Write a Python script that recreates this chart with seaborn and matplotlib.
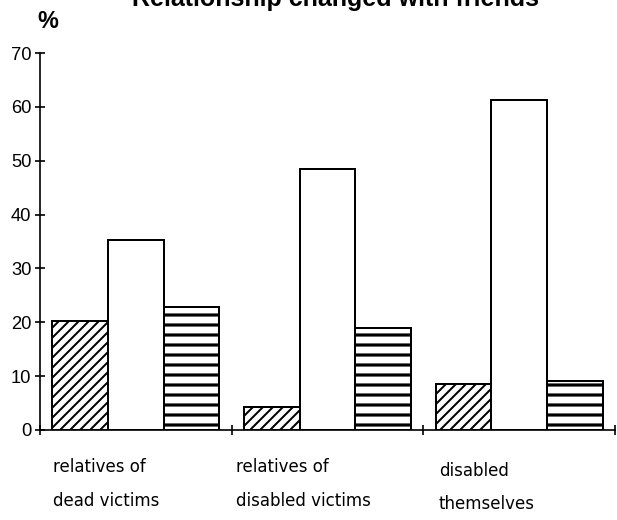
import matplotlib
matplotlib.use("Agg")
import matplotlib.pyplot as plt
import seaborn as sns
import pandas as pd

groups = ["relatives of\ndead victims", "relatives of\ndisabled victims", "disabled\nthemselves"]
series = ["worse", "unchanged", "better"]
worse = [20.2, 4.3, 8.6]
unchanged = [35.3, 48.4, 61.2]
better = [22.9, 19.0, 9.1]
hatches = ["////", "", "--"]

df = pd.DataFrame({
    "group": groups * 3,
    "series": [s for s in series for _ in groups],
    "value": worse + unchanged + better,
})

sns.set_style("ticks")
plt.rcParams["font.family"] = ["Liberation Sans", "DejaVu Sans"]
plt.rcParams["hatch.linewidth"] = 1.2
plt.rcParams["text.color"] = "black"

fig = plt.figure(figsize=(617 / 120, 520 / 120), dpi=120)
ax = fig.add_axes([40 / 617, 1 - 430 / 520, 575 / 617, 377 / 520])

sns.barplot(data=df, x="group", y="value", hue="series", order=groups,
            hue_order=series, palette=["white"] * 3, edgecolor="black",
            linewidth=1.2, width=0.87, legend=False, ax=ax)

for cont, h in zip(ax.containers, hatches):
    for bar in cont:
        bar.set_hatch(h)
        if h == "--" and hasattr(bar, "set_hatch_linewidth"):
            bar.set_hatch_linewidth(1.9)

ax.set_xlim(-0.5, 2.5)
ax.set_ylim(0, 70)
ax.set_yticks(range(0, 71, 10))
ax.set_xticks([-0.5, 0.5, 1.5, 2.5])
ax.set_xticklabels([])
ax.tick_params(axis="both", direction="inout", length=6.5, width=1, labelsize=11,
               colors="black", labelcolor="black")
ax.tick_params(axis="y", pad=2)
for s in ["top", "right"]:
    ax.spines[s].set_visible(False)
for s in ["left", "bottom"]:
    ax.spines[s].set_linewidth(1)
    ax.spines[s].set_color("black")
ax.set_xlabel("")
ax.set_ylabel("")

label_x = [-0.43, 0.52, 1.58]
label_y = [-0.075, -0.075, -0.085]
for g, lx, ly in zip(groups, label_x, label_y):
    ax.text(lx, ly, g, transform=ax.get_xaxis_transform(), ha="left", va="top",
            fontsize=10, linespacing=2.1, family="DejaVu Sans", color="black")

fig.text(37 / 617, 1 - 21 / 520, "%", fontsize=14, fontweight="bold", ha="left", va="center")
fig.text(336 / 617, 1 - 6 / 520, "Relationship changed with friends", fontsize=15,
         fontweight="bold", ha="center", va="baseline")

fig.savefig("out.png", dpi=120)
